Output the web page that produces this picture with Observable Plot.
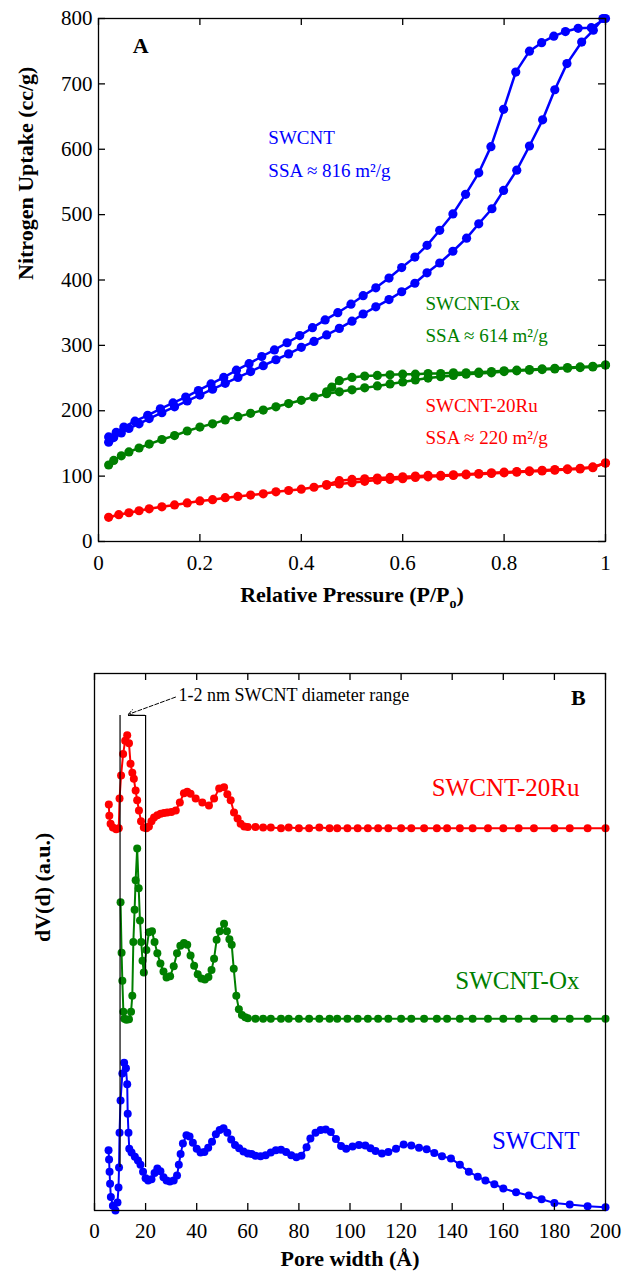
<!DOCTYPE html>
<html><head><meta charset="utf-8">
<script src="https://cdn.jsdelivr.net/npm/d3@7"></script>
<script src="https://cdn.jsdelivr.net/npm/@observablehq/plot@0.6"></script>
<style>body{margin:0;background:#fff} svg{display:block}</style>
</head><body><div id="chart"></div>
<script>
// ---------- Panel A: N2 isotherms ----------
const sampleNames = ["SWCNT", "SWCNT-Ox", "SWCNT-20Ru"];
const sampleColors = ["#0000ff", "#007f00", "#ff0000"];

const swcntAdsP = [0.02,0.03,0.045,0.06,0.08,0.10,0.125,0.15,0.175,0.2,0.225,0.25,0.275,0.3,0.325,0.35,0.375,0.4,0.425,0.45,0.475,0.5,0.522,0.547,0.573,0.598,0.624,0.648,0.673,0.699,0.726,0.75,0.776,0.799,0.825,0.85,0.876,0.9,0.924,0.953,0.976,0.995];
const swcntAdsV = [152,159,166,173,180,188,197,206,215,224,233,242,251,260,269,278,287,297,306,316,326,337,348,359,370,382,395,411,426,444,464,486,509,537,568,605,645,691,731,764,782,800];
const swcntDesP = [1.0,0.972,0.946,0.921,0.898,0.874,0.85,0.823,0.799,0.774,0.75,0.724,0.699,0.673,0.648,0.624,0.598,0.573,0.547,0.522,0.498,0.472,0.447,0.422,0.397,0.372,0.347,0.322,0.297,0.272,0.247,0.222,0.197,0.172,0.147,0.122,0.097,0.072,0.05,0.035,0.02];
const swcntDesV = [800,786,785,780,773,763,750,718,661,604,564,531,501,476,453,435,419,403,388,376,363,350,339,327,315,304,293,283,272,262,251,241,231,221,212,203,193,184,175,167,160];

const oxAdsP = [0.02,0.03,0.045,0.06,0.08,0.1,0.125,0.15,0.175,0.2,0.225,0.25,0.275,0.3,0.325,0.35,0.375,0.4,0.425,0.45,0.475,0.5,0.525,0.55,0.575,0.6,0.625,0.65,0.675,0.7,0.725,0.75,0.775,0.8,0.825,0.85,0.875,0.9,0.925,0.95,0.975,1.0];
const oxAdsV = [117,124,131,137,143,149,156,162,169,175,180,186,191,196,201,206,211,216,221,226,229,232,235,238,241,244,247,250,252,254,256,257,258,260,261,262,263,264,265,266,267,270];
const oxDesP = [1.0,0.975,0.95,0.925,0.9,0.875,0.85,0.825,0.8,0.775,0.75,0.725,0.7,0.675,0.65,0.625,0.6,0.575,0.55,0.525,0.5,0.475,0.46,0.45];
const oxDesV = [270,268,267,266,265,264,263,262,261,260,259,258,258,257,257,256,256,255,254,253,251,246,236,229];

const ruAdsP = [0.02,0.04,0.06,0.08,0.1,0.125,0.15,0.175,0.2,0.225,0.25,0.275,0.3,0.325,0.35,0.375,0.4,0.425,0.45,0.475,0.5,0.525,0.55,0.575,0.6,0.625,0.65,0.675,0.7,0.725,0.75,0.775,0.8,0.825,0.85,0.875,0.9,0.925,0.95,0.975,1.0];
const ruAdsV = [37,41,44,47,50,53,56,59,62,64,67,69,71,73,76,78,80,83,86,88,90,92,94,95,96,98,99,100,101,102,103,104,105,106,107,108,109,110,111,113,120];
const ruDesP = [1.0,0.975,0.95,0.925,0.9,0.875,0.85,0.825,0.8,0.775,0.75,0.725,0.7,0.675,0.65,0.625,0.6,0.575,0.55,0.525,0.5,0.475,0.45];
const ruDesV = [120,114,112,111,110,109,108,107,106,105,104,103,102,101,101,100,99,98,97,96,95,93,87];

const pTicks = [0,0.2,0.4,0.6,0.8,1];
const vTicks = [0,100,200,300,400,500,600,700,800];
const xTitleTop = "Relative Pressure (P/P)";
const yTitleTop = "Nitrogen Uptake (cc/g)";
const annTop = [
  {name:"SWCNT", text:"SWCNT", x:0.335, y:618},
  {name:"SWCNT", text:"SSA ≈ 816 m²/g", x:0.335, y:567},
  {name:"SWCNT-Ox", text:"SWCNT-Ox", x:0.645, y:364},
  {name:"SWCNT-Ox", text:"SSA ≈ 614 m²/g", x:0.645, y:315},
  {name:"SWCNT-20Ru", text:"SWCNT-20Ru", x:0.645, y:208},
  {name:"SWCNT-20Ru", text:"SSA ≈ 220 m²/g", x:0.645, y:159}
];
const panelA = [{text:"A", x:0.083, y:758}];

// ---------- Panel B: pore size distributions ----------
const ruW = [5.6,5.8,6.3,7.2,8.5,9.5,9.8,10.4,11.2,12.0,12.8,13.5,14.1,14.8,15.4,16.1,16.7,17.4,18.2,19.3,20.3,21.3,22.3,23.3,24.6,25.9,27.2,28.5,30.1,31.8,33.4,35.0,36.3,37.6,39.6,42.2,44.8,46.8,48.8,50.7,52.0,53.3,54.6,56.0,57.2,58.6,60,63,66,69,73,76,80,84,88,92,95,99,103,107,111,115,120,124,129,134,138,143,148,154,160,166,172,180,186,193,200];
const ruD = [75.6,73.5,72,71.3,71,71.2,76.7,81,85,87.5,88.5,87,83.2,81.5,80.4,78.2,76.4,74.5,72.5,71.3,71.2,71.5,72.5,73.2,73.6,73.9,74,74.1,74.2,74.5,76,77.7,78,77.6,76.7,76,75.4,76.7,78.6,78.8,77.5,76.4,74.1,73,72,71.5,71.4,71.4,71.3,71.3,71.2,71.3,71.2,71.2,71.3,71.2,71.2,71.2,71.2,71.2,71.2,71.2,71.2,71.2,71.2,71.2,71.2,71.2,71.2,71.2,71.2,71.2,71.2,71.2,71.2,71.2,71.2];

const oxW = [10.2,10.6,10.9,11.3,11.7,12.5,13.5,14.3,14.8,15.2,15.7,16.1,16.7,17.3,17.8,18.3,18.8,19.3,20.3,21.3,22.5,23.5,24.6,25.8,27,28.2,29.6,31,32.3,33.6,35,36.3,37.6,39,40.4,41.8,43.2,44.6,45.8,46.8,47.8,49,50.7,51.8,52.8,53.7,54.5,55.5,56.5,57.7,59,60,63,66,69,73,76,80,84,88,92,95,99,103,107,111,115,120,124,129,134,138,143,148,154,160,166,172,180,186,193,200];
const oxD = [57.4,48,42.8,37,35.7,35.5,35.6,37,40,50,56,61.5,67.4,60,54,50,46.5,44.3,48.5,51.8,52,50,47.9,46,44.5,43.4,43.6,45.5,47.9,49.3,49.8,49.5,47.5,45.6,44,43.2,43,43.5,44.8,46.9,50.4,52,53.4,52,50.5,49.5,45,40,37.5,36.4,36,35.8,35.7,35.7,35.7,35.7,35.7,35.7,35.7,35.7,35.7,35.7,35.7,35.7,35.7,35.7,35.7,35.7,35.7,35.7,35.7,35.7,35.7,35.7,35.7,35.7,35.7,35.7,35.7,35.7,35.7,35.7];

const swW = [5.5,5.7,5.9,6.1,6.4,7.2,8.2,9.0,9.4,9.6,9.8,10.2,10.9,11.6,12.3,12.8,13.0,13.3,13.6,14.5,15.8,17,18,19,20,21,22.3,23.5,24.6,25.8,27,28.2,29.5,31,32.3,33,33.7,34.6,36,37.2,38.5,40,41.5,43,44.5,46,47.5,49,50.5,52,53.5,55,56.6,58.3,60,61.5,63,65,67,69,71,73,75,77,79,81,83,84.5,86.5,88.5,90.5,92.5,94.5,96.5,98.5,101,103.5,106,108,110,112.5,115,118,121,124,127,130,133,136,139.5,143,146.5,150,153,156.5,160,165,170,175,180,186,193,200];
const swD = [11.2,9.5,7.2,5,2.5,0.9,0,1.5,4.3,8,14.5,20.5,25.5,27.5,26.5,23.5,18,14.5,11.5,10.8,10,9.3,8.5,7.2,6,5.6,5.8,7,7.8,7.3,6.2,5.6,5.4,5.6,6.5,8.5,10.5,12.5,14,13.8,12.6,11.5,10.8,10.9,11.7,12.8,14.2,15,15.3,14.5,13.2,12.2,11.6,11,10.6,10.5,10.2,10.1,10.3,10.8,11.2,11.3,10.9,10.3,9.9,10.2,11.8,13.4,14.5,15,15.1,14.6,13.3,12,11.5,11.9,12.2,12.1,11.6,11.1,10.6,10.9,11.5,12.3,12.1,11.7,11.4,10.7,10.1,9.7,8.5,7.2,6.3,5.6,4.9,4.1,3.4,2.8,2.1,1.4,1.1,0.8,0.6];

const wTicks = [0,20,40,60,80,100,120,140,160,180,200];
const xTitleBot = "Pore width (Å)";
const yTitleBot = "dV(d) (a.u.)";
const annBot = [
  {name:"SWCNT-20Ru", text:"SWCNT-20Ru", x:189.8, y:78.6},
  {name:"SWCNT-Ox", text:"SWCNT-Ox", x:189.8, y:42.8},
  {name:"SWCNT", text:"SWCNT", x:189.8, y:13}
];
const panelB = [{text:"B", x:189.4, y:95.5}];
const rangeText = [{text:"1-2 nm SWCNT diameter range", x:32.9, y:95.9}];
const rangeLines = [10, 20];
const rangeBottom = 8, rangeTop = 92.2;
const rangeCap = [{x1:13.3, x2:20, y:92.2}];
const rangeArrow = [{x1:31.7, y1:95.6, x2:13.3, y2:92.4}];

// ---------- build tables ----------
function series(name, branch, xs, ys) { return xs.map((x, i) => ({name, branch, x, y: ys[i]})); }
const iso = [
  ...series("SWCNT","ads",swcntAdsP,swcntAdsV), ...series("SWCNT","des",swcntDesP,swcntDesV),
  ...series("SWCNT-Ox","ads",oxAdsP,oxAdsV), ...series("SWCNT-Ox","des",oxDesP,oxDesV),
  ...series("SWCNT-20Ru","ads",ruAdsP,ruAdsV), ...series("SWCNT-20Ru","des",ruDesP,ruDesV)
];
const psd = [
  ...series("SWCNT-20Ru","psd",ruW,ruD),
  ...series("SWCNT-Ox","psd",oxW,oxD),
  ...series("SWCNT","psd",swW,swD)
];

const W = 626, TL = 7;
const font = "Liberation Serif, Times New Roman, serif";
const fmt = d => String(d);

// Panel A
const H1 = 640, mt1 = 18, mb1 = 99, ml1 = 98, mr1 = 21;
const iw1 = W - ml1 - mr1, ih1 = H1 - mt1 - mb1;
const svgA = Plot.plot({
  width: W, height: H1, marginTop: mt1, marginBottom: mb1, marginLeft: ml1, marginRight: mr1,
  style: {fontFamily: font, fontSize: "21px", background: "white", color: "black", overflow: "visible"},
  x: {domain: [0, 1]}, y: {domain: [0, 800]},
  color: {domain: sampleNames, range: sampleColors},
  marks: [
    Plot.line(iso, {x: "x", y: "y", z: d => d.name + d.branch, stroke: "name", strokeWidth: 2.5}),
    Plot.dot(iso, {x: "x", y: "y", fill: "name", r: 4.6}),
    Plot.frame({stroke: "black", strokeWidth: 1.3}),
    Plot.tickX(pTicks, {x: d => d, insetTop: ih1 - TL, stroke: "black", strokeWidth: 1.3}),
    Plot.tickX(pTicks, {x: d => d, insetBottom: ih1 - TL, stroke: "black", strokeWidth: 1.3}),
    Plot.tickY(vTicks, {y: d => d, insetRight: iw1 - TL, stroke: "black", strokeWidth: 1.3}),
    Plot.tickY(vTicks, {y: d => d, insetLeft: iw1 - TL, stroke: "black", strokeWidth: 1.3}),
    Plot.axisX(pTicks, {tickSize: 0, tickPadding: 14, label: null, fontSize: 21, tickFormat: fmt}),
    Plot.axisY(vTicks, {tickSize: 0, tickPadding: 6, label: null, fontSize: 21, tickFormat: fmt}),
    Plot.text([xTitleTop], {frameAnchor: "bottom", dy: 60, fontWeight: "bold", fontSize: 22}),
    Plot.text([yTitleTop], {frameAnchor: "left", rotate: -90, dx: -73, fontWeight: "bold", fontSize: 22}),
    Plot.text(annTop, {x: "x", y: "y", text: "text", fill: "name", textAnchor: "start", fontSize: 19}),
    Plot.text(panelA, {x: "x", y: "y", text: "text", fill: "black", fontWeight: "bold", fontSize: 22})
  ]
});

// Panel B
const H2 = 641, mt2 = 33, mb2 = 71, ml2 = 94, mr2 = 21;
const iw2 = W - ml2 - mr2, ih2 = H2 - mt2 - mb2;
const svgB = Plot.plot({
  width: W, height: H2, marginTop: mt2, marginBottom: mb2, marginLeft: ml2, marginRight: mr2,
  style: {fontFamily: font, fontSize: "21px", background: "white", color: "black", overflow: "visible"},
  x: {domain: [0, 200]}, y: {domain: [0, 100], axis: null},
  color: {domain: sampleNames, range: sampleColors},
  marks: [
    Plot.line(psd, {x: "x", y: "y", z: "name", stroke: "name", strokeWidth: 2}),
    Plot.dot(psd, {x: "x", y: "y", fill: "name", r: 4}),
    Plot.ruleX(rangeLines, {x: d => d, y1: rangeBottom, y2: rangeTop, stroke: "black", strokeWidth: 1.2}),
    Plot.ruleY(rangeCap, {x1: "x1", x2: "x2", y: "y", stroke: "black", strokeWidth: 1.2}),
    Plot.arrow(rangeArrow, {x1: "x1", y1: "y1", x2: "x2", y2: "y2", stroke: "black", strokeWidth: 1, headLength: 9, strokeDasharray: "4,2"}),
    Plot.frame({stroke: "black", strokeWidth: 1.3}),
    Plot.tickX(wTicks, {x: d => d, insetTop: ih2 - TL, stroke: "black", strokeWidth: 1.3}),
    Plot.tickX(wTicks, {x: d => d, insetBottom: ih2 - TL, stroke: "black", strokeWidth: 1.3}),
    Plot.axisX(wTicks, {tickSize: 0, tickPadding: 13, label: null, fontSize: 21, tickFormat: fmt}),
    Plot.text([xTitleBot], {frameAnchor: "bottom", dy: 55, fontWeight: "bold", fontSize: 22}),
    Plot.text([yTitleBot], {frameAnchor: "left", rotate: -90, dx: -52, fontWeight: "bold", fontSize: 22}),
    Plot.text(rangeText, {x: "x", y: "y", text: "text", fill: "black", textAnchor: "start", fontSize: 18}),
    Plot.text(annBot, {x: "x", y: "y", text: "text", fill: "name", textAnchor: "end", fontSize: 25}),
    Plot.text(panelB, {x: "x", y: "y", text: "text", fill: "black", fontWeight: "bold", fontSize: 22})
  ]
});

// subscript o in P/Po
d3.select(svgA).selectAll("text").each(function() {
  if (this.textContent === xTitleTop) {
    const t = d3.select(this);
    t.text("Relative Pressure (P/P");
    t.append("tspan").attr("dy", 6).attr("font-size", "14px").text("o");
    t.append("tspan").attr("dy", -6).text(")");
  }
});

const root = document.getElementById("chart");
root.appendChild(svgA);
root.appendChild(svgB);
</script></body></html>
